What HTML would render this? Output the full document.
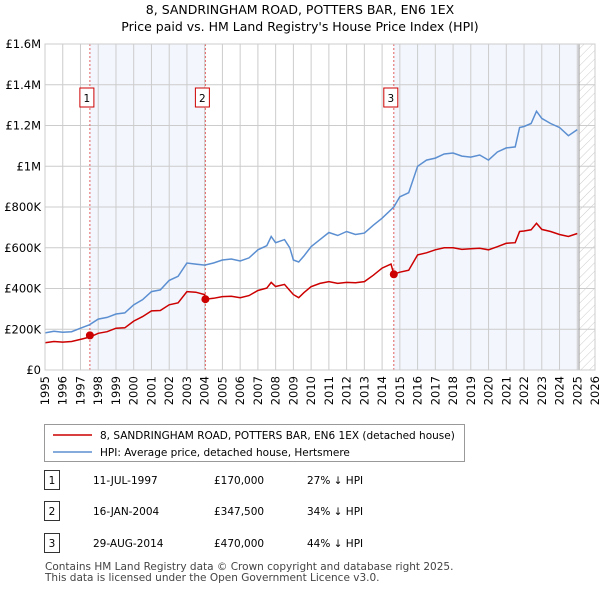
<!DOCTYPE html>
<html><head><meta charset="utf-8"><style>
body{margin:0;background:#fff;font-family:"Liberation Sans","DejaVu Sans",sans-serif;}
svg text{font-family:"DejaVu Sans","Liberation Sans",sans-serif;}
</style></head><body>
<svg width="600" height="590" xmlns="http://www.w3.org/2000/svg">
<defs><pattern id="hatch" width="6" height="6" patternUnits="userSpaceOnUse" patternTransform="rotate(45)"><line x1="0" y1="0" x2="0" y2="6" stroke="#ccc" stroke-width="1"/></pattern></defs>
<text x="300" y="14" text-anchor="middle" font-size="12.5">8, SANDRINGHAM ROAD, POTTERS BAR, EN6 1EX</text>
<text x="300" y="31" text-anchor="middle" font-size="12.5">Price paid vs. HM Land Registry's House Price Index (HPI)</text>
<g id="plot"></g>
<g id="legend">
<rect x="44.5" y="424.5" width="420" height="37" fill="#fff" stroke="#999"/>
<line x1="53" y1="435" x2="92" y2="435" stroke="#cc0000" stroke-width="1.5"/>
<text x="100" y="439" font-size="10.5">8, SANDRINGHAM ROAD, POTTERS BAR, EN6 1EX (detached house)</text>
<line x1="53" y1="452" x2="92" y2="452" stroke="#5b8fd1" stroke-width="1.5"/>
<text x="100" y="456" font-size="10.5">HPI: Average price, detached house, Hertsmere</text>
</g>
<g id="table" font-size="10.5"></g>
<text x="45" y="570" font-size="10.5" fill="#444">Contains HM Land Registry data © Crown copyright and database right 2025.</text>
<text x="45" y="581" font-size="10.5" fill="#444">This data is licensed under the Open Government Licence v3.0.</text>
</svg>
<script>
const yearTicks=[1995,1996,1997,1998,1999,2000,2001,2002,2003,2004,2005,2006,2007,2008,2009,2010,2011,2012,2013,2014,2015,2016,2017,2018,2019,2020,2021,2022,2023,2024,2025,2026];
const valueTicks=[0,200000,400000,600000,800000,1000000,1200000,1400000,1600000];
const valueTickLabels=["£0","£200K","£400K","£600K","£800K","£1M","£1.2M","£1.4M","£1.6M"];
const hpiYears=[1995,1995.5,1996,1996.5,1997,1997.5,1998,1998.5,1999,1999.5,2000,2000.5,2001,2001.5,2002,2002.5,2003,2003.5,2004,2004.5,2005,2005.5,2006,2006.5,2007,2007.5,2007.75,2008,2008.5,2008.8,2009,2009.3,2009.6,2010,2010.5,2011,2011.5,2012,2012.5,2013,2013.5,2014,2014.66,2015,2015.5,2016,2016.5,2017,2017.5,2018,2018.5,2019,2019.5,2020,2020.5,2021,2021.5,2021.75,2022,2022.4,2022.7,2023,2023.5,2024,2024.5,2025];
const hpiValues=[182000,190000,185000,188000,205000,222000,250000,258000,275000,280000,320000,345000,385000,393000,440000,460000,525000,520000,515000,525000,540000,545000,535000,550000,590000,610000,655000,625000,640000,600000,540000,530000,560000,605000,640000,675000,660000,680000,665000,672000,710000,745000,800000,850000,870000,1000000,1030000,1040000,1060000,1065000,1050000,1045000,1055000,1030000,1070000,1090000,1095000,1190000,1195000,1210000,1270000,1235000,1210000,1190000,1150000,1180000];
const pricePaidYears=[1995,1995.5,1996,1996.5,1997,1997.53,1998,1998.5,1999,1999.5,2000,2000.5,2001,2001.5,2002,2002.5,2003,2003.5,2004,2004.04,2004.5,2005,2005.5,2006,2006.5,2007,2007.5,2007.75,2008,2008.5,2008.8,2009,2009.3,2009.6,2010,2010.5,2011,2011.5,2012,2012.5,2013,2013.5,2014,2014.5,2014.66,2015,2015.5,2016,2016.5,2017,2017.5,2018,2018.5,2019,2019.5,2020,2020.5,2021,2021.5,2021.75,2022,2022.4,2022.7,2023,2023.5,2024,2024.5,2025];
const pricePaidValues=[134000,140000,137000,140000,150000,162000,180000,188000,205000,207000,240000,262000,290000,292000,320000,330000,385000,382000,370000,347500,352000,360000,362000,355000,365000,390000,402000,430000,410000,420000,390000,370000,355000,380000,409000,425000,434000,425000,430000,428000,434000,465000,500000,520000,470000,480000,490000,565000,575000,590000,600000,600000,592000,595000,598000,590000,605000,622000,625000,680000,682000,688000,720000,690000,680000,665000,655000,670000];
const saleLabels=["1","2","3"];
const saleYears=[1997.53,2004.04,2014.66];
const salePrices=[170000,347500,470000];
const saleDates=["11-JUL-1997","16-JAN-2004","29-AUG-2014"];
const salePriceText=["£170,000","£347,500","£470,000"];
const saleHpiText=["27% ↓ HPI","34% ↓ HPI","44% ↓ HPI"];
const dataEnd=2025.1;

const X0=45,X1=595,Y0=370,Y1=44;
const xS=y=>X0+(y-1995)/(2026-1995)*(X1-X0);
const yS=v=>Y0-v/1600000*(Y0-Y1);
const NS="http://www.w3.org/2000/svg";
const plot=document.getElementById('plot');
function mk(tag,attrs,parent){const e=document.createElementNS(NS,tag);for(const k in attrs)e.setAttribute(k,attrs[k]);(parent||plot).appendChild(e);return e;}
for(let i=0;i<saleYears.length;i+=2){
  const a=saleYears[i],b=i+1<saleYears.length?saleYears[i+1]:dataEnd;
  const r=mk('rect',{x:xS(a),y:Y1,width:xS(b)-xS(a),height:Y0-Y1,fill:'#f3f6fd'});
  
  
}
const sh=mk('rect',{x:xS(saleYears[2]),y:Y1,width:xS(dataEnd)-xS(saleYears[2]),height:Y0-Y1,fill:'#f3f6fd'});


const ht=mk('rect',{x:xS(dataEnd),y:Y1,width:X1-xS(dataEnd),height:Y0-Y1,fill:'url(#hatch)'});


yearTicks.forEach(y=>{
  const l=mk('line',{x1:xS(y),x2:xS(y),y1:Y1,y2:Y0,stroke:'#ccc','stroke-width':1});
  
  
  const t=mk('text',{x:0,y:0,'font-size':11.5,'text-anchor':'end',transform:`translate(${xS(y)+4},${Y0+6}) rotate(-90)`});
  t.textContent=y;
  
  
});
valueTicks.forEach((v,i)=>{
  const l=mk('line',{x1:X0,x2:X1,y1:yS(v),y2:yS(v),stroke:'#ccc','stroke-width':1});
  
  
  const t=mk('text',{x:X0-4,y:yS(v)+4,'font-size':11.5,'text-anchor':'end'});
  t.textContent=valueTickLabels[i];
  
  
});
const el=mk('line',{x1:xS(dataEnd),x2:xS(dataEnd),y1:Y1,y2:Y0,stroke:'#999','stroke-width':1});


saleYears.forEach((y,i)=>{
  const l=mk('line',{x1:xS(y),x2:xS(y),y1:Y1,y2:Y0,stroke:'#e06060','stroke-width':1,'stroke-dasharray':'2,2'});
  
  
  const r=mk('rect',{x:xS(y)-10,y:88,width:14,height:19,fill:'#fff',stroke:'#cc0000'});
  
  
  const t=mk('text',{x:xS(y)-3,y:102,'font-size':10.5,'text-anchor':'middle'});
  t.textContent=saleLabels[i];
  
  
});
const line=(xs,vs)=>xs.map((x,i)=>(i?'L':'M')+xS(x).toFixed(1)+','+yS(vs[i]).toFixed(1)).join('');
const hp=mk('path',{d:line(hpiYears,hpiValues),fill:'none',stroke:'#5b8fd1','stroke-width':1.5});


const pp=mk('path',{d:line(pricePaidYears,pricePaidValues),fill:'none',stroke:'#cc0000','stroke-width':1.5});


saleYears.forEach((y,i)=>{
  const c=mk('circle',{cx:xS(y),cy:yS(salePrices[i]),r:4,fill:'#cc0000'});
  
  
});
const fr=mk('rect',{x:X0,y:Y1,width:X1-X0,height:Y0-Y1,fill:'none',stroke:'#ccc'});


const tb=document.getElementById('table');
const rowY=[481,512,544];
saleLabels.forEach((s,i)=>{
  const r=mk('rect',{x:44.5,y:rowY[i]-10.5,width:15,height:19,fill:'#fff',stroke:'#333'},tb);
  
  
  const cols=[[52,s,'middle'],[93,saleDates[i],'start'],[214,salePriceText[i],'start'],[307,saleHpiText[i],'start']];
  cols.forEach(c=>{const t=mk('text',{x:c[0],y:rowY[i]+3,'text-anchor':c[2]},tb);t.textContent=c[1];
    
    });
});
</script>
</body></html>
